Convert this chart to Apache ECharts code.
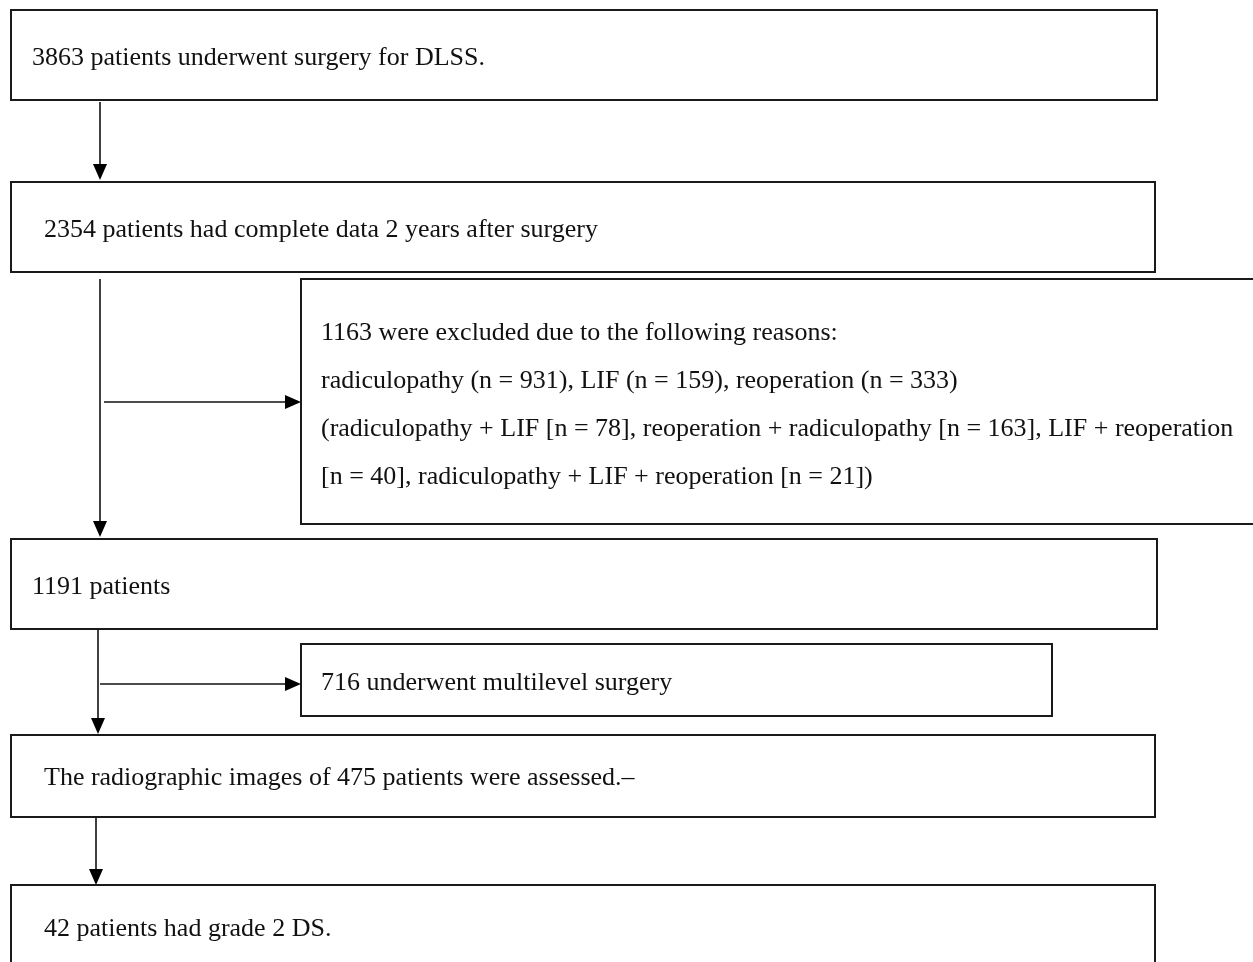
<!DOCTYPE html>
<html>
<head>
<meta charset="utf-8">
<script src="https://cdn.jsdelivr.net/npm/echarts@6/dist/echarts.min.js"></script>
<style>
html,body{margin:0;padding:0;background:#fff;}
#chart{width:1253px;height:962px;}
</style>
</head>
<body>
<div id="chart"></div>
<script>
// ---- Data: flowchart box texts ----
const boxTexts = [
  ["3863 patients underwent surgery for DLSS."],
  ["2354 patients had complete data 2 years after surgery"],
  ["1163 were excluded due to the following reasons:",
   "radiculopathy (n = 931), LIF (n = 159), reoperation (n = 333)",
   "(radiculopathy + LIF [n = 78], reoperation + radiculopathy [n = 163], LIF + reoperation",
   "[n = 40], radiculopathy + LIF + reoperation [n = 21])"],
  ["1191 patients"],
  ["716 underwent multilevel surgery"],
  ["The radiographic images of 475 patients were assessed.\u2013"],
  ["42 patients had grade 2 DS."]
];
// connections: [fromBox, toBox]
const links = [[0,1],[1,3],[1,2],[3,5],[3,4],[5,6]];

// ---- Layout (positions in page units, separate from data) ----
const boxLayout = [
  {x0: 11,  y0: 10,  x1: 1157, y1: 100, tx: 32,  ty: 58},
  {x0: 11,  y0: 182, x1: 1155, y1: 272, tx: 44,  ty: 230},
  {x0: 301, y0: 279, x1: 1262, y1: 524, tx: 321, ty: 333, lh: 48},
  {x0: 11,  y0: 539, x1: 1157, y1: 629, tx: 32,  ty: 587},
  {x0: 301, y0: 644, x1: 1052, y1: 716, tx: 321, ty: 683},
  {x0: 11,  y0: 735, x1: 1155, y1: 817, tx: 44,  ty: 778},
  {x0: 11,  y0: 885, x1: 1155, y1: 980, tx: 44,  ty: 929}
];
const arrowLayout = [
  {x0: 100, y0: 102, x1: 100, y1: 180},
  {x0: 100, y0: 279, x1: 100, y1: 537},
  {x0: 104, y0: 402, x1: 301, y1: 402},
  {x0: 98,  y0: 630, x1: 98,  y1: 734},
  {x0: 100, y0: 684, x1: 301, y1: 684},
  {x0: 96,  y0: 818, x1: 96,  y1: 885}
];

const FONT = '26px "Liberation Serif", "Times New Roman", serif';

const boxData = boxTexts.map((t, i) => {
  const L = boxLayout[i];
  return [L.x0, L.y0, L.x1, L.y1, L.tx, L.ty, i];
});
const arrowData = links.map((lk, i) => {
  const L = arrowLayout[i];
  return [L.x0, L.y0, L.x1, L.y1, lk[0], lk[1]];
});

const chart = echarts.init(document.getElementById('chart'), null, {renderer: 'canvas'});
chart.setOption({
  animation: false,
  backgroundColor: '#ffffff',
  grid: {left: 0, right: 0, top: 0, bottom: 0},
  xAxis: {type: 'value', min: 0, max: 1253, show: false},
  yAxis: {type: 'value', min: 0, max: 962, inverse: true, show: false},
  series: [
    {
      type: 'custom',
      coordinateSystem: 'cartesian2d',
      data: boxData,
      clip: false,
      renderItem: function (params, api) {
        const p0 = api.coord([api.value(0), api.value(1)]);
        const p1 = api.coord([api.value(2), api.value(3)]);
        const tp = api.coord([api.value(4), api.value(5)]);
        const idx = api.value(6);
        const lines = boxTexts[idx];
        const lh = boxLayout[idx].lh || 0;
        const children = [{
          type: 'rect',
          shape: {x: p0[0], y: p0[1], width: p1[0] - p0[0], height: p1[1] - p0[1]},
          style: {fill: '#ffffff', stroke: '#1a1a1a', lineWidth: 2}
        }];
        lines.forEach((s, k) => {
          children.push({
            type: 'text',
            x: tp[0], y: tp[1] + k * lh,
            style: {text: s, font: FONT, fill: '#111111', align: 'left', verticalAlign: 'middle'}
          });
        });
        return {type: 'group', children: children};
      }
    },
    {
      type: 'custom',
      coordinateSystem: 'cartesian2d',
      data: arrowData,
      clip: false,
      renderItem: function (params, api) {
        const a = api.coord([api.value(0), api.value(1)]);
        const b = api.coord([api.value(2), api.value(3)]);
        const dx = b[0] - a[0], dy = b[1] - a[1];
        const len = Math.sqrt(dx * dx + dy * dy);
        const ux = dx / len, uy = dy / len;
        const hl = 16, hw = 7;
        const bx = b[0] - ux * hl, by = b[1] - uy * hl;
        return {
          type: 'group',
          children: [
            {type: 'line', shape: {x1: a[0], y1: a[1], x2: bx, y2: by},
             style: {stroke: '#111111', lineWidth: 1.6}},
            {type: 'polygon', shape: {points: [
              [b[0], b[1]],
              [bx - uy * hw, by + ux * hw],
              [bx + uy * hw, by - ux * hw]
            ]}, style: {fill: '#000000'}}
          ]
        };
      }
    }
  ]
});
</script>
</body>
</html>
